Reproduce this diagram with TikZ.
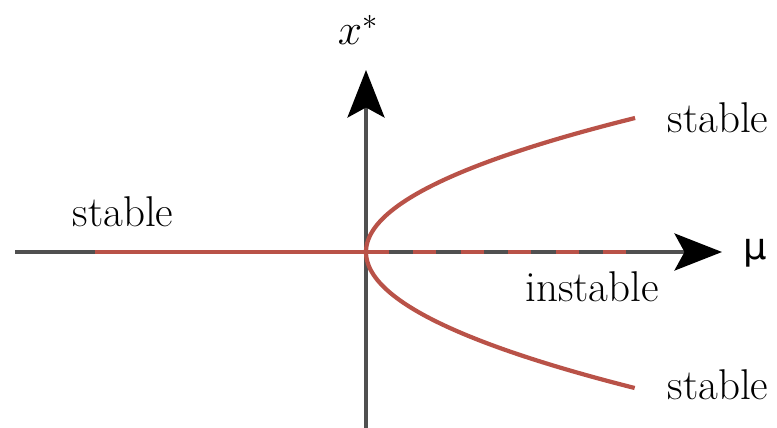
\documentclass[tikz,border=0pt]{standalone}
\usepackage{fontspec}
\usepackage{amsmath}
\usetikzlibrary{arrows.meta, positioning, calc}
\newfontfamily\mufont{DejaVu Sans}
\definecolor{branchred}{RGB}{185,82,72}
\definecolor{axisgray}{RGB}{80,80,80}

\begin{document}
\begin{tikzpicture}[
x=0.02cm, y=-0.02cm,
axis/.style={draw=axisgray, line width=2.2pt, -{Stealth[length=9.5mm, width=7.4mm, inset=2mm, black]}},
branch/.style={draw=branchred, line width=2.4pt},
lbl/.style={font=\fontsize{24.5}{29}\selectfont, inner sep=0pt}
]
\useasboundingbox (0,0) rectangle (777,428);
\coordinate (o) at (366,252);
\coordinate (xl) at (15,252);
\coordinate (xr) at (722,252);
\coordinate (yb) at (366,428);
\coordinate (yt) at (366,70);
\coordinate (sl) at (95,252);
\coordinate (dr) at (640,252);

% axes
\draw[axis] (xl) -- (xr);
\draw[axis] (yb) -- (yt);

% branches
\draw[branch] (sl) -- (o);
\draw[branch, dash pattern=on 13pt off 14pt] (o) -- (dr);
\draw[branch, domain=0:134, samples=60, smooth] plot ({366+0.01498*\x*\x},{252-\x});
\draw[branch, domain=0:136, samples=60, smooth] plot ({366+0.01453*\x*\x},{252+\x});

% labels
\node[lbl] (xs) at (358,30) {$x^{*}$};
\node[lbl, font=\fontsize{21}{25}\selectfont\mufont] (mu) at (755,253) {μ};
\node[lbl] (stl) at (123,212) {stable};
\node[lbl] (stu) at (718,118) {stable};
\node[lbl] (ins) at (592,287) {instable};
\node[lbl] (std) at (718,385) {stable};
\end{tikzpicture}
\end{document}
